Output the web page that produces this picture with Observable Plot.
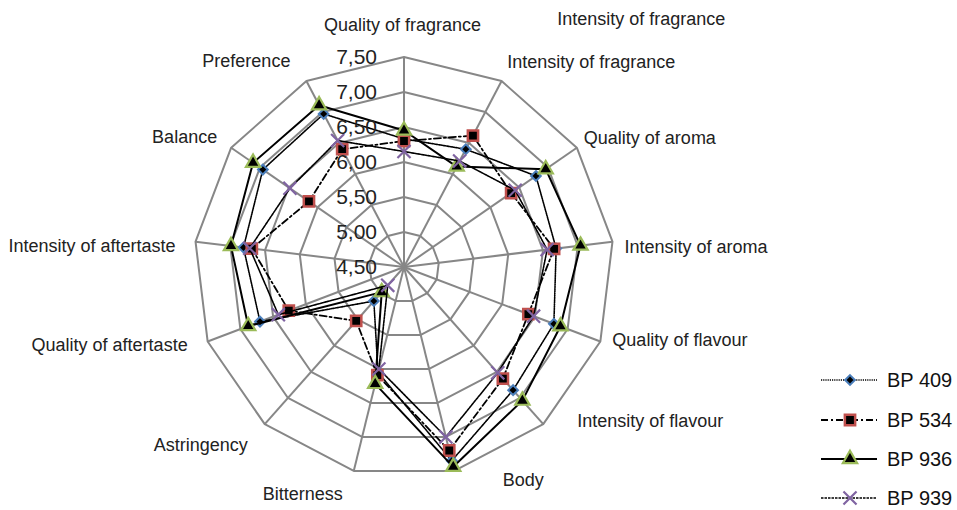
<!DOCTYPE html>
<html><head><meta charset="utf-8">
<script src="https://cdn.jsdelivr.net/npm/d3@7"></script>
<script src="https://cdn.jsdelivr.net/npm/@observablehq/plot@0.6"></script>
<style>
html,body{margin:0;padding:0;background:#fff;}
#wrap{position:relative;width:957px;height:510px;font-family:"Liberation Sans",Arial,sans-serif;overflow:hidden;}
#legend{position:absolute;left:0;top:0;width:957px;height:510px;pointer-events:none;}
.lg{position:absolute;left:818px;height:30px;display:flex;align-items:center;font-size:20px;color:#111;}
.lg svg{margin-right:7px;}
</style></head><body>
<div id="wrap"><div id="chart"></div><div id="legend"></div></div>
<script>
const attributes = ["Quality of fragrance","Intensity of fragrance","Quality of aroma","Intensity of aroma","Quality of flavour","Intensity of flavour","Body","Bitterness","Astringency","Quality of aftertaste","Intensity of aftertaste","Balance","Preference"];
const seriesNames = ["BP 409","BP 534","BP 936","BP 939"];
const bp409 = [6.33,6.40,6.79,6.69,6.79,6.85,7.35,6.05,5.15,6.70,6.81,6.95,6.97];
const bp534 = [6.30,6.62,6.36,6.66,6.40,6.63,7.20,6.09,5.53,6.26,6.69,6.15,6.40];
const bp936 = [6.45,6.12,6.96,7.04,6.89,7.05,7.44,6.22,4.98,6.88,6.99,7.12,7.11];
const bp939 = [6.15,6.21,6.43,6.56,6.48,6.52,7.00,6.00,4.85,6.42,6.72,6.48,6.54];
const tickValues = [4.5,5.0,5.5,6.0,6.5,7.0,7.5];
const tickLabels = ["4,50","5,00","5,50","6,00","6,50","7,00","7,50"];

// layout (pixels)
const W = 957, H = 510, CX = 403.5, CY = 266.5, UNIT = 70;
const minV = tickValues[0], maxV = tickValues[tickValues.length-1];
const n = attributes.length;
const ang = i => i * 2 * Math.PI / n;
const px = (v,i) => (v - minV) * Math.sin(ang(i));
const py = (v,i) => (v - minV) * Math.cos(ang(i));

// label offsets relative to outer vertex (pixels) and anchors
const labelLayout = [
  {anchor:"middle",dx:-1.5,dy:-31.5},{anchor:"start",dx:5.6,dy:-19},{anchor:"start",dx:7,dy:-9},
  {anchor:"start",dx:12,dy:6},{anchor:"start",dx:12,dy:-1},{anchor:"start",dx:34,dy:-3},
  {anchor:"middle",dx:69,dy:9},{anchor:"middle",dx:-51,dy:23},{anchor:"end",dx:-17,dy:21},
  {anchor:"end",dx:-20,dy:4},{anchor:"end",dx:-20,dy:5},{anchor:"end",dx:-14,dy:-10},{anchor:"end",dx:-16,dy:-20}
];

const styles = [
  {line:{strokeWidth:1.6,strokeDasharray:"1.2,1"}, dot:{symbol:"diamond2",r:4.4,fill:"black",stroke:"#4a7ebb",strokeWidth:2}},
  {line:{strokeWidth:1.8,strokeDasharray:"7,3,2,3"}, dot:{symbol:"square",r:5.8,fill:"black",stroke:"#c0504d",strokeWidth:2.5}},
  {line:{strokeWidth:2}, dot:{symbol:"triangle",r:5.3,fill:"black",stroke:"#9bbb59",strokeWidth:2.2}},
  {line:{strokeWidth:1.6,strokeDasharray:"2.5,1"}, dot:{symbol:"times",r:6,fill:"none",stroke:"#8064a2",strokeWidth:2.2}}
];
const seriesValues = [bp409,bp534,bp936,bp939];

const rings = [];
tickValues.slice(1).forEach(t => attributes.forEach((a,i) => rings.push({t, x:px(t,i), y:py(t,i)})));
const spokes = attributes.map((a,i) => ({x2:px(maxV,i), y2:py(maxV,i)}));
const labels = attributes.map((name,i) => ({name, x:px(maxV,i), y:py(maxV,i), ...labelLayout[i]}));

const marks = [
  Plot.line(rings, {x:"x", y:"y", z:"t", curve:"linear-closed", stroke:"#878787", strokeWidth:2}),
  Plot.link(spokes, {x1:0, y1:0, x2:"x2", y2:"y2", stroke:"#878787", strokeWidth:2}),
];
seriesValues.forEach((vals, s) => {
  const pts = vals.map((v,i) => ({x:px(v,i), y:py(v,i), s:seriesNames[s]}));
  marks.push(Plot.line(pts, {x:"x", y:"y", curve:"linear-closed", stroke:"black", ...styles[s].line}));
  marks.push(Plot.dot(pts, {x:"x", y:"y", ...styles[s].dot}));
});
tickValues.forEach((t,k) => {
  marks.push(Plot.text([tickLabels[k]], {x:0, y:t-minV, text:d=>d, dx:-27, textAnchor:"end", fontSize:21, fill:"#222"}));
});
labels.forEach(l => {
  marks.push(Plot.text([l], {x:"x", y:"y", text:"name", dx:l.dx, dy:l.dy, textAnchor:l.anchor, fontSize:18, fill:"#222"}));
});
// duplicated label seen at the top right of the original
marks.push(Plot.text([attributes[1]], {x:px(maxV,1), y:py(maxV,1), text:d=>d, dx:55.6, dy:-62, textAnchor:"start", fontSize:18, fill:"#222"}));

const chart = Plot.plot({
  width: W, height: H, margin: 0,
  style: {fontFamily: '"Liberation Sans", Arial, sans-serif', background: "white"},
  x: {domain: [-CX/UNIT, (W-CX)/UNIT], axis: null},
  y: {domain: [(CY-H)/UNIT, CY/UNIT], axis: null},
  marks
});
document.getElementById("chart").appendChild(chart);

// legend
const legend = document.getElementById("legend");
const rowY = [380, 420, 459, 498];
const symMap = {diamond2:d3.symbolDiamond2, square:d3.symbolSquare, triangle:d3.symbolTriangle, times:d3.symbolTimes};
seriesNames.forEach((name, s) => {
  const row = document.createElement("div");
  row.className = "lg";
  row.style.top = (rowY[s] - 15) + "px";
  const st = styles[s];
  const svg = d3.create("svg").attr("width", 62).attr("height", 30);
  svg.append("line").attr("x1", 3).attr("x2", 59).attr("y1", 15).attr("y2", 15)
    .attr("stroke", "black").attr("stroke-width", st.line.strokeWidth)
    .attr("stroke-dasharray", st.line.strokeDasharray || null);
  svg.append("path").attr("transform", "translate(32,15)")
    .attr("d", d3.symbol(symMap[st.dot.symbol], st.dot.r * st.dot.r * Math.PI)())
    .attr("fill", st.dot.fill).attr("stroke", st.dot.stroke).attr("stroke-width", st.dot.strokeWidth);
  row.appendChild(svg.node());
  const span = document.createElement("span");
  span.textContent = name;
  row.appendChild(span);
  legend.appendChild(row);
});
</script>
</body></html>
